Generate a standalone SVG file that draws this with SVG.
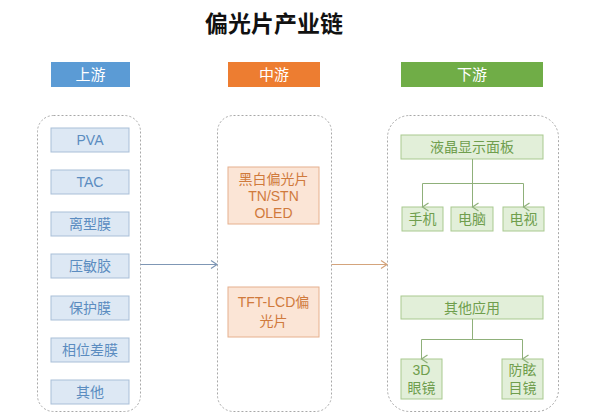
<svg xmlns="http://www.w3.org/2000/svg" width="600" height="413" viewBox="0 0 600 413">
<defs>
<style>
text{font-family:"Liberation Sans","Noto Sans CJK SC",sans-serif;text-anchor:middle;dominant-baseline:central}
.title{font-size:23px;font-weight:bold;fill:#111}
.hdr{font-size:15px;fill:#fff}
.cont{fill:#fff;stroke:#a8a8a8;stroke-width:1;stroke-dasharray:2,2}
.bl{fill:#dde8f4;stroke:#a9bfd8;stroke-width:1}
.blt{font-size:14px;fill:#5b8cc0}
.or{fill:#fbe5d6;stroke:#e6b08e;stroke-width:1}
.ort{font-size:14px;fill:#d07a3c}
.gr{fill:#e2efd9;stroke:#a9c98f;stroke-width:1}
.grt{font-size:14px;fill:#6f9e4d}
.gl{fill:none;stroke:#8fb07a;stroke-width:1}
</style>
<marker id="ab" markerWidth="10" markerHeight="10" refX="8" refY="5" orient="auto" markerUnits="userSpaceOnUse"><path d="M2,1 L8,5 L2,9" fill="none" stroke="#7f97b5" stroke-width="1.2"/></marker>
<marker id="ao" markerWidth="10" markerHeight="10" refX="8" refY="5" orient="auto" markerUnits="userSpaceOnUse"><path d="M2,1 L8,5 L2,9" fill="none" stroke="#d4a47c" stroke-width="1.2"/></marker>
<marker id="ag" markerWidth="10" markerHeight="10" refX="5" refY="8" orient="auto-start-reverse" markerUnits="userSpaceOnUse"><path d="M1,2 L5,8 L9,2" fill="none" stroke="#8fb07a" stroke-width="1.2"/></marker>
</defs>
<rect width="600" height="413" fill="#fff"/>
<text class="title" x="274" y="24">偏光片产业链</text>

<g id="hdr-up"><rect x="51" y="62" width="79" height="25" fill="#5b9bd5"/><text class="hdr" x="90.5" y="74.5">上游</text></g>
<g id="hdr-mid"><rect x="228" y="62" width="92" height="25" fill="#ed7d31"/><text class="hdr" x="274" y="74.5">中游</text></g>
<g id="hdr-down"><rect x="401" y="62" width="142" height="25" fill="#70ad47"/><text class="hdr" x="472" y="74.5">下游</text></g>

<g id="upstream">
<rect class="cont" x="37.5" y="115.5" width="103" height="296" rx="16"/>
<g id="u1"><rect class="bl" x="51" y="128" width="78" height="24"/><text class="blt" x="90" y="140">PVA</text></g>
<g id="u2"><rect class="bl" x="51" y="170" width="78" height="24"/><text class="blt" x="90" y="182">TAC</text></g>
<g id="u3"><rect class="bl" x="51" y="212" width="78" height="24"/><text class="blt" x="90" y="224">离型膜</text></g>
<g id="u4"><rect class="bl" x="51" y="254" width="78" height="24"/><text class="blt" x="90" y="266">压敏胶</text></g>
<g id="u5"><rect class="bl" x="51" y="296" width="78" height="24"/><text class="blt" x="90" y="308">保护膜</text></g>
<g id="u6"><rect class="bl" x="51" y="338" width="78" height="24"/><text class="blt" x="90" y="350">相位差膜</text></g>
<g id="u7"><rect class="bl" x="51" y="380" width="78" height="24"/><text class="blt" x="90" y="392">其他</text></g>
</g>

<g id="midstream">
<rect class="cont" x="217.5" y="115.5" width="114" height="296" rx="16"/>
<g id="m1"><rect class="or" x="228" y="167" width="91" height="57"/><text class="ort" x="273.5" y="179">黑白偏光片</text><text class="ort" x="273.5" y="196">TN/STN</text><text class="ort" x="273.5" y="213">OLED</text></g>
<g id="m2"><rect class="or" x="228" y="287" width="91" height="50"/><text class="ort" x="273.5" y="302">TFT-LCD偏</text><text class="ort" x="273.5" y="321">光片</text></g>
</g>

<g id="downstream">
<rect class="cont" x="387.5" y="115.5" width="171" height="296" rx="22"/>
<g id="d1"><rect class="gr" x="401" y="135" width="142" height="24"/><text class="grt" x="472" y="147">液晶显示面板</text></g>
<g id="d2"><rect class="gr" x="402" y="207" width="41" height="24"/><text class="grt" x="422.5" y="219">手机</text></g>
<g id="d3"><rect class="gr" x="451" y="207" width="42" height="24"/><text class="grt" x="472" y="219">电脑</text></g>
<g id="d4"><rect class="gr" x="503" y="207" width="41" height="24"/><text class="grt" x="523.5" y="219">电视</text></g>
<g id="d5"><rect class="gr" x="401" y="296" width="142" height="23"/><text class="grt" x="472" y="307.5">其他应用</text></g>
<g id="d6"><rect class="gr" x="401" y="359" width="41" height="40"/><text class="grt" x="421.5" y="370">3D</text><text class="grt" x="421.5" y="388">眼镜</text></g>
<g id="d7"><rect class="gr" x="502" y="359" width="41" height="40"/><text class="grt" x="522.5" y="370">防眩</text><text class="grt" x="522.5" y="388">目镜</text></g>
</g>

<g id="connectors">
<line x1="140.5" y1="264.5" x2="217" y2="264.5" stroke="#7f97b5" stroke-width="1" marker-end="url(#ab)"/>
<line x1="331.5" y1="264.5" x2="387" y2="264.5" stroke="#d4a47c" stroke-width="1" marker-end="url(#ao)"/>
<path class="gl" d="M472.5,159 V183.5 M422.5,183.5 H523.5"/>
<line class="gl" x1="422.5" y1="183.5" x2="422.5" y2="207" marker-end="url(#ag)"/>
<line class="gl" x1="472.5" y1="183.5" x2="472.5" y2="207" marker-end="url(#ag)"/>
<line class="gl" x1="523.5" y1="183.5" x2="523.5" y2="207" marker-end="url(#ag)"/>
<path class="gl" d="M472.5,319 V339.5 M421.5,339.5 H522.5"/>
<line class="gl" x1="421.5" y1="339.5" x2="421.5" y2="359" marker-end="url(#ag)"/>
<line class="gl" x1="522.5" y1="339.5" x2="522.5" y2="359" marker-end="url(#ag)"/>
</g>
</svg>
